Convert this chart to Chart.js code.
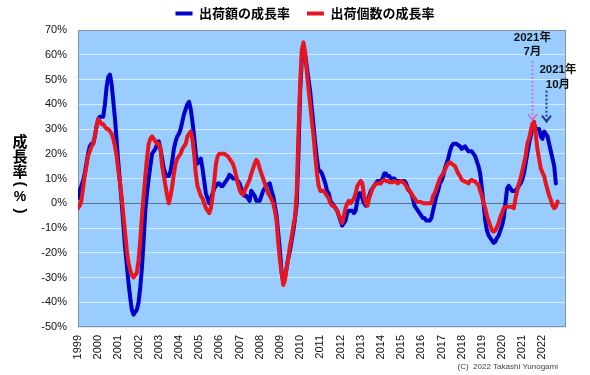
<!DOCTYPE html>
<html lang="ja">
<head>
<meta charset="utf-8">
<title>出荷額・出荷個数の成長率</title>
<script src="https://cdn.jsdelivr.net/npm/chart.js@4.4.1/dist/chart.umd.min.js"></script>
<style>
  html, body { margin: 0; padding: 0; background: #fff; }
</style>
</head>
<body>
<canvas id="growthChart" width="590" height="375"></canvas>
<script>
// monthly data, starting 1999/01 (index 0)
var yearLabels = ['1999', '2000', '2001', '2002', '2003', '2004', '2005', '2006', '2007', '2008', '2009', '2010',
                  '2011', '2012', '2013', '2014', '2015', '2016', '2017', '2018', '2019', '2020', '2021', '2022'];

// 出荷額の成長率 (%)
var valueGrowth = [
  2, 5, 7, 9, 12, 16, 20, 23, 24, 24, 27, 31,
  34, 35, 35, 35, 40, 47, 51, 52, 48, 41, 34, 25,
  16, 8, 0, -9, -18, -25, -32, -38, -43, -45, -44, -43,
  -40, -34, -26, -15, -3, 4, 10, 15, 20, 21, 22, 24,
  25, 22, 18, 14, 12, 11, 11, 13, 17, 22, 25, 27,
  28, 30, 33, 36, 38, 40, 41, 38, 33, 27, 20, 16,
  17, 18, 14, 9, 4, 2, 0, 2, 4, 6, 7, 8,
  8, 7, 7, 8, 9, 10, 11.5, 11, 10, 10, 10, 9,
  8, 6, 4, 3, 3, 2, 1, 5, 4, 3, 1, 1,
  1, 3, 5, 6, 7, 7.5, 8, 5, 3, -1, -5, -12,
  -19, -28, -32, -30, -26, -22, -19, -15, -11, -6, 0, 20,
  45, 58, 62, 60, 55, 50, 45, 38, 31, 24, 18, 13,
  13, 12, 10, 8, 5, 4, 1, 0, -1, -2, -3, -5,
  -7, -9, -8, -7, -4, -3, -3, -3, -4, -3, 1, 4,
  4, 2, 0, -1, 1, 3, 5, 6, 7, 8, 9, 9,
  9, 10, 12, 12, 11, 11, 10, 10, 10, 9, 9, 9,
  9, 9, 9, 8, 6, 5, 4, 2, -1, -2, -3, -4,
  -5, -6, -6, -7, -7, -7, -6, -3, 0, 3, 5, 8,
  9, 11, 14, 16, 18, 21, 23, 24, 24, 24, 23.5, 23,
  22, 22.5, 23, 22, 21, 21, 21, 20, 19, 17, 15, 12,
  6, 0, -7, -11, -13, -14, -15, -16, -15.5, -14, -13, -11,
  -9, -6, 0, 6, 7, 6, 5, 5, 5, 6, 7, 8,
  9.5, 12, 16, 20, 24, 27, 30, 32, 30, 30, 30, 27,
  26, 29, 28, 27, 24, 21, 18, 15, 8
];

// 出荷個数の成長率 (%)
var countGrowth = [
  -2, -1, 1, 6, 11, 15, 19, 21, 23, 24, 27, 31,
  34, 33, 32, 32, 31, 30, 30, 29, 28, 26, 23, 19,
  13, 8, 2, -5, -12, -19, -24, -27, -29, -30, -29, -28,
  -23, -15, -5, 3, 11, 18, 24, 26, 27, 26, 25, 24,
  24, 22, 15, 11, 7, 3, 0, 3, 7, 12, 16, 18,
  19, 20, 22, 23, 24, 27, 28, 29, 26, 20, 12, 7,
  5, 3, 2, 0, -2, -3, -4, -2, 3, 9, 16, 19,
  20, 20, 20, 20, 19.5, 19, 18, 17, 16, 14, 11, 8,
  5.5, 4, 3.5, 5, 6.5, 8, 9.5, 12, 14, 16, 17.5, 16.5,
  14, 12, 10, 8, 6, 4, 3, 1.5, 0, -3, -7, -16,
  -23, -28, -33, -31, -26, -22, -17, -13.5, -9, -5.5, 5, 28,
  48, 62, 65, 61, 53, 46, 40, 33, 27, 19, 12, 7,
  5, 5, 5, 4, 3, 2, 0, -1, -1, -2, -3, -5,
  -6, -8, -5, -2, 0, 1, 0, 1, 2, 4, 7, 8,
  9, 8, 3, 0, -1, 2, 4, 6, 7, 8, 8, 8,
  8, 9, 9.5, 9, 9, 8.5, 8.5, 8.5, 9, 8.5, 8, 8.5,
  9, 8.5, 8, 7, 5.5, 5, 4, 3, 2, 1, 0.5, 0.5,
  0.5, 0, 0, 0, 0, 0, 0, 3, 4, 6, 8, 10,
  11, 12, 13.5, 15, 16, 16.5, 16, 15.5, 15, 13.5, 12, 11,
  9.5, 9, 8.8, 8.5, 8, 9, 9.5, 9, 8.8, 8, 7.4, 5,
  3, 0, -2, -5, -7, -9, -11, -11.5, -11, -9.5, -8, -5.5,
  -4, -2, -1.5, -1.4, -1.4, -1.4, -1.5, -2, 2, 5, 8, 10,
  13, 16, 19, 24, 26, 29, 32, 33, 28, 22, 18, 14,
  12.5, 11, 8, 5.5, 3, 1.4, -1, -2, -1.4, 0.7
];

// annotations (month index / percent)
var callouts = [
  { lines: ['2021年', '7月'], textAt: 270, textY: [67, 61], arrowAt: 270, from: 57.5, to: 33.6, color: '#cc66cc', width: 1.5 },
  { lines: ['2021年', '10月'], textAt: 285.2, textY: [53.9, 47.8], arrowAt: 278, from: 45.5, to: 33, color: '#1f3a8f', width: 2 }
];

function toPoints(arr) {
  return arr.map(function (v, i) { return { x: i, y: v }; });
}

var plotFrame = {
  id: 'plotFrame',
  beforeDraw: function (chart) {
    var a = chart.chartArea, ctx = chart.ctx;
    ctx.save();
    ctx.fillStyle = '#99CCFF';
    ctx.fillRect(a.left, a.top, a.right - a.left, a.bottom - a.top);
    ctx.restore();
  },
  beforeDatasetsDraw: function (chart) {
    var a = chart.chartArea, ctx = chart.ctx;
    ctx.save();
    ctx.strokeStyle = '#8593a1';
    ctx.lineWidth = 1;
    ctx.strokeRect(a.left + 0.5, a.top + 0.5, a.right - a.left - 1, a.bottom - a.top - 1);
    ctx.restore();
  }
};

var legendNudge = {
  id: 'legendNudge',
  afterLayout: function (chart) {
    chart.legend.left += 22;
    chart.legend.right += 22;
  }
};

var extraText = {
  id: 'extraText',
  afterDraw: function (chart) {
    var ctx = chart.ctx;
    ctx.save();
    // y axis title, stacked
    ctx.fillStyle = '#000';
    ctx.textAlign = 'center';
    ctx.textBaseline = 'middle';
    var chars = ['成', '長', '率', '(', '%', ')'];
    var ys = [141, 156, 171, 184, 197, 211];
    chars.forEach(function (ch, i) {
      if (ch === '(' || ch === ')') {
        ctx.font = 'bold 15px "Liberation Sans"';
        ctx.save();
        ctx.translate(20, ys[i]);
        ctx.rotate(Math.PI / 2);
        ctx.fillText(ch, 0, 0);
        ctx.restore();
      } else {
        ctx.font = ch === '%' ? 'bold 14px "Liberation Sans"' : 'bold 15px "Noto Sans CJK JP"';
        ctx.fillText(ch, 20, ys[i]);
      }
    });
    // copyright
    ctx.font = '8px "Liberation Sans"';
    ctx.fillStyle = '#444';
    ctx.textAlign = 'right';
    ctx.fillText('(C)  2022 Takashi Yunogami', 558, 367);
    ctx.restore();
  },
  afterDatasetsDraw: function (chart) {
    var ctx = chart.ctx, xs = chart.scales.x, ys = chart.scales.y;
    ctx.save();
    callouts.forEach(function (c) {
      ctx.font = 'bold 11.5px "Liberation Sans", "Noto Sans CJK JP"';
      ctx.fillStyle = '#111';
      ctx.textAlign = 'center';
      ctx.textBaseline = 'middle';
      c.lines.forEach(function (t, i) {
        ctx.fillText(t, xs.getPixelForValue(c.textAt), ys.getPixelForValue(c.textY[i]));
      });
      var ax = Math.round(xs.getPixelForValue(c.arrowAt)) + 0.5;
      var y1 = ys.getPixelForValue(c.from), y2 = ys.getPixelForValue(c.to);
      ctx.strokeStyle = c.color;
      ctx.lineWidth = c.width;
      ctx.setLineDash([2, 2]);
      ctx.beginPath();
      ctx.moveTo(ax, y1);
      ctx.lineTo(ax, y2 - 2);
      ctx.stroke();
      ctx.setLineDash([]);
      ctx.beginPath();
      ctx.moveTo(ax - 4.5, y2 - 6);
      ctx.lineTo(ax, y2);
      ctx.lineTo(ax + 4.5, y2 - 6);
      ctx.stroke();
    });
    ctx.restore();
  }
};

Chart.defaults.font.family = '"Liberation Sans", Arial, sans-serif';

var ctx = document.getElementById('growthChart').getContext('2d');
var tickFont = { size: 11 };

var myChart = new Chart(ctx, {
  type: 'line',
  data: {
    datasets: [
      {
        label: '出荷額の成長率',
        data: toPoints(valueGrowth),
        borderColor: '#0000CC',
        backgroundColor: '#0000CC',
        order: 1
      },
      {
        label: '出荷個数の成長率',
        data: toPoints(countGrowth),
        borderColor: '#E8141E',
        backgroundColor: '#E8141E',
        order: 0
      }
    ]
  },
  options: {
    responsive: false,
    animation: false,
    layout: { padding: { left: 0, right: 24, top: -10, bottom: 0 } },
    elements: {
      point: { radius: 0 },
      line: { borderWidth: 4, tension: 0, borderJoinStyle: 'round', borderCapStyle: 'round' }
    },
    scales: {
      x: {
        type: 'linear',
        min: 0,
        max: 290,
        grid: { display: false },
        border: { display: false },
        afterBuildTicks: function (s) {
          s.ticks = s.ticks.filter(function (t) { return t.value % 12 === 0 && t.value / 12 < yearLabels.length; });
        },
        afterFit: function (s) { s.height = 48; },
        ticks: {
          stepSize: 12,
          autoSkip: false,
          minRotation: 90,
          maxRotation: 90,
          padding: 0,
          color: '#111',
          font: tickFont,
          callback: function (v) { return yearLabels[v / 12]; }
        }
      },
      y: {
        min: -50,
        max: 70,
        border: { display: false },
        grid: {
          drawTicks: false,
          lineWidth: 1,
          color: function (c) { return c.tick.value === 0 ? '#5f7081' : '#d6eafc'; }
        },
        afterFit: function (s) { s.width = 78; },
        ticks: {
          stepSize: 10,
          padding: 11,
          color: '#111',
          font: tickFont,
          callback: function (v) { return v + '%'; }
        }
      }
    },
    plugins: {
      tooltip: { enabled: false },
      legend: {
        position: 'top',
        labels: {
          boxWidth: 17,
          boxHeight: 4,
          padding: 17,
          color: '#000',
          font: { family: '"Noto Sans CJK JP", sans-serif', size: 13, weight: 'bold' },
          sort: function (a, b) { return a.datasetIndex - b.datasetIndex; },
          generateLabels: function (chart) {
            return Chart.defaults.plugins.legend.labels.generateLabels(chart).map(function (it) {
              it.fillStyle = it.strokeStyle;
              it.lineWidth = 0;
              return it;
            });
          }
        }
      }
    }
  },
  plugins: [plotFrame, legendNudge, extraText]
});
</script>
</body>
</html>
